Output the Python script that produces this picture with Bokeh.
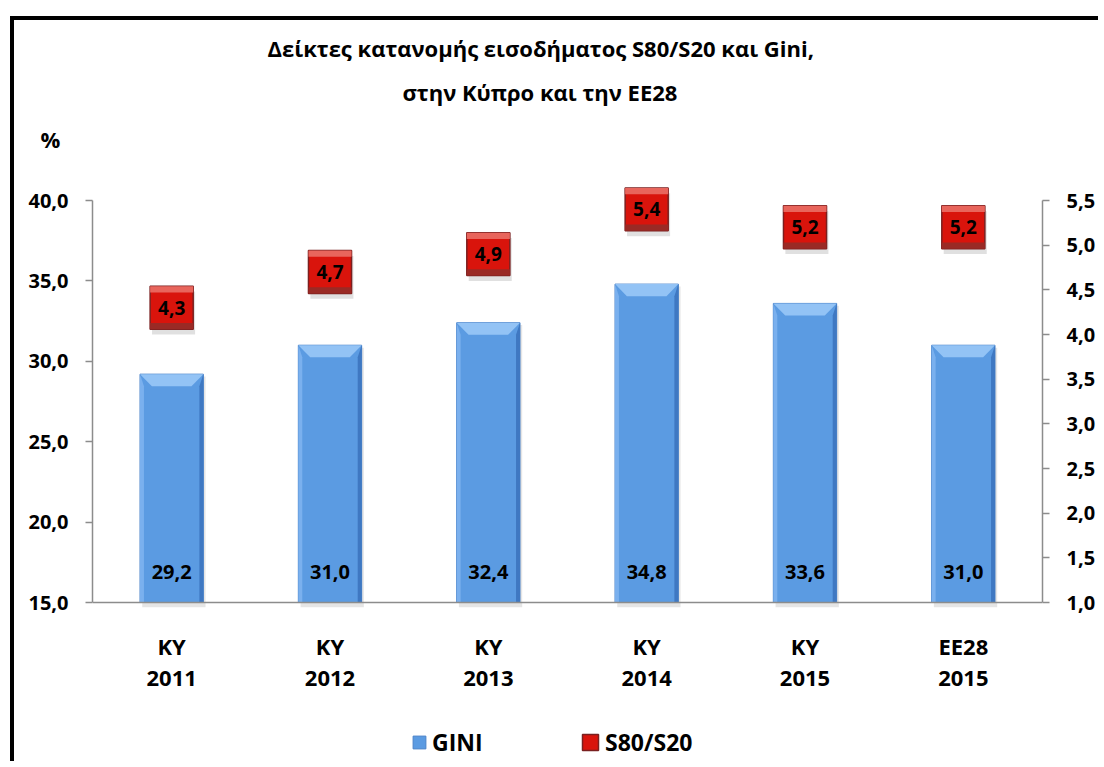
from bokeh.plotting import figure
from bokeh.models import (Range1d, LinearAxis, FixedTicker, LabelSet,
                          ColumnDataSource, Legend, LegendItem, Span, Title)
from bokeh.core.properties import value
from bokeh.embed import file_html
from bokeh.resources import INLINE

# ---- data ----
regions = ["KY", "KY", "KY", "KY", "KY", "EE28"]
years = ["2011", "2012", "2013", "2014", "2015", "2015"]
gini = [29.2, 31.0, 32.4, 34.8, 33.6, 31.0]
s80s20 = [4.3, 4.7, 4.9, 5.4, 5.2, 5.2]
left_ticks = [15.0, 20.0, 25.0, 30.0, 35.0, 40.0]
right_ticks = [1.0, 1.5, 2.0, 2.5, 3.0, 3.5, 4.0, 4.5, 5.0, 5.5]
title_lines = ["Δείκτες κατανομής εισοδήματος S80/S20 και Gini,",
               "στην Κύπρο και την ΕΕ28"]
unit_label = "%"
series_names = ["GINI", "S80/S20"]


def fmt(v):
    return f"{v:.1f}".replace(".", ",")


FONT = "Open Sans"

# ---- layout geometry (pixels on the canvas) ----
W, H = 1088, 745
FR_TOP, FR_BOT = 135, H          # frame top / bottom on canvas
AX_TOP, AX_BOT = 180, 582        # where first/last ticks sit on canvas
lpx = (AX_BOT - AX_TOP) / (left_ticks[-1] - left_ticks[0])
rpx = (AX_BOT - AX_TOP) / (right_ticks[-1] - right_ticks[0])
y_lo = left_ticks[0] - (FR_BOT - AX_BOT) / lpx
y_hi = left_ticks[-1] + (AX_TOP - FR_TOP) / lpx
r_lo = right_ticks[0] - (FR_BOT - AX_BOT) / rpx
r_hi = right_ticks[-1] + (AX_TOP - FR_TOP) / rpx

p = figure(width=W, height=H, x_range=Range1d(0, 6), y_range=Range1d(y_lo, y_hi),
           output_backend="svg", toolbar_location=None, x_axis_location=None,
           min_border_left=78, min_border_right=60, min_border_top=FR_TOP,
           min_border_bottom=0)
p.extra_y_ranges = {"right": Range1d(r_lo, r_hi)}
p.styles = {"border-left": "4px solid black", "border-top": "4px solid black",
            "margin-left": "10px", "margin-top": "16px"}
p.xgrid.visible = False
p.ygrid.visible = False
p.outline_line_color = None
p.background_fill_color = "white"
p.border_fill_color = "white"

n = len(gini)
xc = [i + 0.5 for i in range(n)]
base = left_ticks[0]

# baseline (category axis line)
p.add_layout(Span(location=base, dimension="width", line_color="#8c8c8c",
                  line_width=1.5))

# ---- bars (GINI) ----
bw = 0.4
dx = 0.075   # bevel width (x units)
dy = 0.75    # bevel height (left y units)
dxs = 0.025
p.vbar(x=[x + 0.014 for x in xc], top=[g - 0.15 for g in gini], bottom=base - 0.3,
       width=bw, fill_color="#000000", fill_alpha=0.10, line_color=None)
bars = p.vbar(x=xc, top=gini, bottom=base, width=bw, fill_color="#5b9be2",
              line_color="#4a82c8", line_width=1)
top_xs, top_ys, l_xs, l_ys, r_xs, r_ys = [], [], [], [], [], []
for x, g in zip(xc, gini):
    x0, x1 = x - bw / 2, x + bw / 2
    top_xs.append([x0, x1, x1 - dx, x0 + dx])
    top_ys.append([g, g, g - dy, g - dy])
    l_xs.append([x0, x0 + dxs, x0 + dxs, x0])
    l_ys.append([g, g - dy, base, base])
    r_xs.append([x1, x1 - dxs, x1 - dxs, x1])
    r_ys.append([g, g - dy, base, base])
p.patches(top_xs, top_ys, fill_color="#93c3f5", line_color=None)
p.patches(l_xs, l_ys, fill_color="#7ab0ee", line_color=None)
p.patches(r_xs, r_ys, fill_color="#3f78c2", line_color=None)

p.add_layout(LabelSet(x="x", y="y", text="text", source=ColumnDataSource(
    dict(x=xc, y=[base + 1.9] * n, text=[fmt(g) for g in gini])),
    text_align="center", text_baseline="middle", text_font=value(FONT),
    text_font_size="20px", text_font_style="bold", text_color="black"))

# ---- squares (S80/S20) ----
sw = 0.272
sh = 0.48
sb = 0.07
p.rect(x=[x + 0.012 for x in xc], y=[s - 0.06 for s in s80s20], width=sw,
       height=sh, fill_color="#000000", fill_alpha=0.12, line_color=None,
       y_range_name="right")
sq = p.rect(x=xc, y=s80s20, width=sw, height=sh, fill_color="#d9140c",
            line_color="#7a2020", line_width=1.5, y_range_name="right")
p.rect(x=xc, y=[s + sh / 2 - sb / 2 for s in s80s20], width=sw, height=sb,
       fill_color="#e8655c", line_color=None, y_range_name="right")
p.rect(x=xc, y=[s - sh / 2 + sb / 2 for s in s80s20], width=sw, height=sb,
       fill_color="#9a2a25", line_color=None, y_range_name="right")
p.add_layout(LabelSet(x="x", y="y", text="text", y_range_name="right",
                      source=ColumnDataSource(dict(x=xc, y=s80s20,
                                                   text=[fmt(s) for s in s80s20])),
                      text_align="center", text_baseline="middle",
                      text_font=value(FONT), text_font_size="19px",
                      text_font_style="bold", text_color="black"))

# ---- axes ----
ya = p.yaxis[0]
ya.ticker = FixedTicker(ticks=left_ticks)
ya.major_label_overrides = {t: fmt(t) for t in left_ticks}
ya.bounds = (left_ticks[0], left_ticks[-1])
ra = LinearAxis(y_range_name="right", ticker=FixedTicker(ticks=right_ticks),
                major_label_overrides={t: fmt(t) for t in right_ticks},
                bounds=(right_ticks[0], right_ticks[-1]))
p.add_layout(ra, "right")
for ax in (ya, ra):
    ax.major_label_text_font = FONT
    ax.major_label_text_font_size = "20px"
    ax.major_label_text_font_style = "bold"
    ax.major_label_text_color = "black"
    ax.axis_line_color = "#8c8c8c"
    ax.axis_line_width = 1.5
    ax.major_tick_line_color = "#8c8c8c"
    ax.major_tick_line_width = 1.5
    ax.major_tick_out = 7
    ax.major_tick_in = 0
    ax.minor_tick_line_color = None
    ax.major_label_standoff = 17

# category labels (two rows)
cat_src = ColumnDataSource(dict(x=xc, y1=[base - 43 / lpx] * n,
                                y2=[base - 76 / lpx] * n,
                                r=regions, yr=years))
for col, txt in (("y1", "r"), ("y2", "yr")):
    p.add_layout(LabelSet(x="x", y=col, text=txt, source=cat_src,
                          text_align="center", text_baseline="middle",
                          text_font=value(FONT), text_font_size="22px",
                          text_font_style="bold", text_color="black"))

# ---- title and unit (above the frame) ----
p.add_layout(Title(text=unit_label, align="left", offset=-52,
                   text_font=FONT, text_font_size="22px",
                   text_font_style="bold", text_color="black", standoff=4),
             "above")
p.add_layout(Title(text=title_lines[1], align="left", offset=310,
                   text_font=FONT, text_font_size="22px",
                   text_font_style="bold", text_color="black", standoff=25),
             "above")
p.add_layout(Title(text=title_lines[0], align="left", offset=175,
                   text_font=FONT, text_font_size="22px",
                   text_font_style="bold", text_color="black", standoff=0),
             "above")

# ---- legends ----
def make_legend(label, rend, loc, gsize):
    lg = Legend(items=[LegendItem(label=label, renderers=[rend])],
                orientation="horizontal", location=loc)
    lg.padding = 0
    lg.margin = 0
    lg.glyph_width = gsize
    lg.glyph_height = gsize
    lg.label_standoff = 5
    lg.label_text_font = FONT
    lg.label_text_font_size = "23px"
    lg.label_text_font_style = "bold"
    lg.label_text_color = "black"
    lg.border_line_color = None
    lg.background_fill_alpha = 0
    p.add_layout(lg, "center")


make_legend(series_names[0], bars, (319, 7), 16)
make_legend(series_names[1], sq, (488, 7), 20)

open("out.html", "w").write(file_html(p, INLINE))
